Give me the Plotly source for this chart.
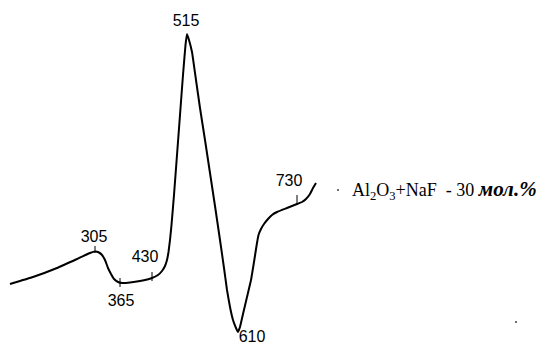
import plotly.graph_objects as go

# DTA curve (arbitrary horizontal / signal units)
curve_x = [10, 33, 57, 77, 90, 95, 99, 102, 105, 108, 111, 114, 118, 122, 130, 140, 152,
           158, 162, 165, 167, 168.5, 170, 171.5, 174, 177, 180, 183, 185.5, 187, 189,
           192, 196, 200, 205, 210, 215, 220, 224, 227, 230, 233, 236, 238, 240, 243, 247,
           251, 254, 256.5, 258.5, 261, 264, 268, 272, 277, 287, 297, 302, 306, 310, 313, 316]
curve_y = [284, 277, 268, 259, 253, 251.5, 252.5, 255, 260, 268, 274, 279, 282, 283, 282.5, 281, 278,
           275, 271, 266, 260, 252, 240, 225, 195, 155, 115, 75, 45, 34, 40,
           52, 80, 108, 140, 173, 206, 240, 268, 290, 307, 320, 328, 332, 327, 314, 297,
           280, 262, 246, 235, 229, 224, 219, 215, 212, 208, 204, 202, 199, 194, 188, 183]

# peak temperature labels
peak_labels = ["305", "365", "430", "515", "610", "730"]
label_x = [94, 121, 145, 186, 252, 289]
label_y = [238, 302, 258, 22, 338, 182]

# small tick marks at characteristic points
tick_x = [95, 120, 152, 297]
tick_y0 = [246, 278, 272, 195]
tick_y1 = [253, 287, 281, 205]

legend_text = ("Al<sub>2</sub>O<sub>3</sub>+NaF  - 30 "
               "<span style='font-size:21px'><b><i>мол.%</i></b></span>")

fig = go.Figure()
fig.add_trace(go.Scatter(x=curve_x, y=curve_y, mode="lines",
                         line=dict(color="black", width=2, shape="spline", smoothing=0.3),
                         hoverinfo="skip", showlegend=False))

tx, ty = [], []
for x, a, b in zip(tick_x, tick_y0, tick_y1):
    tx += [x, x, None]
    ty += [a, b, None]
fig.add_trace(go.Scatter(x=tx, y=ty, mode="lines", line=dict(color="black", width=1),
                         hoverinfo="skip", showlegend=False))

fig.add_trace(go.Scatter(x=label_x, y=label_y, mode="text", text=peak_labels,
                         textfont=dict(family="Liberation Sans, Arial", size=16, color="black"),
                         hoverinfo="skip", showlegend=False))

fig.add_trace(go.Scatter(x=[338, 516], y=[190, 322], mode="markers",
                         marker=dict(color="#444", size=2), hoverinfo="skip", showlegend=False))

fig.add_annotation(x=350, y=190, xanchor="left", yanchor="middle", showarrow=False,
                   text=legend_text,
                   font=dict(family="Liberation Serif, Times New Roman", size=18, color="black"))

fig.update_layout(width=544, height=347, margin=dict(l=0, r=0, t=0, b=0),
                  paper_bgcolor="white", plot_bgcolor="white",
                  xaxis=dict(range=[0, 544], visible=False, fixedrange=True),
                  yaxis=dict(range=[347, 0], visible=False, fixedrange=True))

fig.write_html("out.html")
